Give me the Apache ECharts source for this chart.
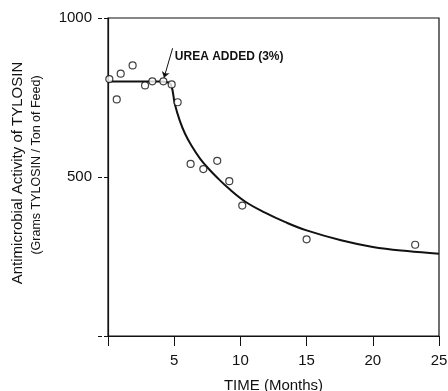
<!DOCTYPE html>
<html>
<head>
<meta charset="utf-8">
<script src="https://cdn.jsdelivr.net/npm/echarts@6/dist/echarts.min.js"></script>
<style>
  html, body { margin: 0; padding: 0; background: #fff; }
  #chart { width: 448px; height: 391px; }
</style>
</head>
<body>
<div id="chart"></div>
<script>
// measured points (months, grams tylosin / ton)
const months = [0.1, 0.66, 0.96, 1.86, 2.8, 3.35, 4.18, 4.81, 5.26, 6.24, 7.2, 8.25, 9.16, 10.14, 15.0, 23.2];
const activity = [808, 744, 825, 851, 788, 801, 801, 791, 735, 541, 525, 551, 487, 410, 304, 287];

// fitted curve
const curveMonths = [0, 2, 4, 4.4, 4.76, 5.06, 5.44, 5.82, 6.3, 6.95, 7.6, 8.2, 9.06, 10.35, 11.86, 13.4, 15.0, 17.6, 20.0, 22.6, 25.0];
const curveActivity = [800, 800, 800, 799, 790, 727, 675, 636, 599, 558, 526, 500, 466, 423, 388, 358, 332, 301, 280, 267, 259];

const xTicks = [5, 10, 15, 20, 25];
const yTicks = [500, 1000];

const font = "'Liberation Sans', Arial, sans-serif";
const chart = echarts.init(document.getElementById("chart"));

chart.setOption({
  animation: false,
  textStyle: { fontFamily: font, color: "#111" },
  grid: {
    left: 108, right: 9, top: 18, bottom: 55,
    outerBoundsMode: "none", containLabel: false,
    show: true, borderColor: "#111", borderWidth: 1.2,
  },
  xAxis: {
    type: "value", min: 0, max: 25, interval: 5,
    name: "TIME (Months)", nameLocation: "middle", nameGap: 42,
    nameTextStyle: { fontSize: 15, color: "#111", fontFamily: font },
    axisLine: { show: true, lineStyle: { color: "#111", width: 1.2 } },
    axisTick: { show: true, length: 10, lineStyle: { color: "#111" } },
    axisLabel: {
      fontSize: 15, color: "#111", margin: 17,
      formatter: (v) => (xTicks.includes(v) ? String(v) : ""),
    },
    splitLine: { show: false },
  },
  yAxis: {
    type: "value", min: 0, max: 1000, interval: 500,
    axisLine: { show: true, lineStyle: { color: "#111", width: 1.2 } },
    axisTick: { show: true, length: 12, lineStyle: { color: "#111", type: [4, 2] } },
    axisLabel: {
      fontSize: 15, color: "#111", margin: 16,
      formatter: (v) => (yTicks.includes(v) ? String(v) : ""),
    },
    splitLine: { show: false },
  },
  graphic: [
    {
      type: "text", x: 18, y: 173, rotation: Math.PI / 2,
      style: { text: "Antimicrobial Activity of TYLOSIN", font: "15px " + font, fill: "#111", align: "center", verticalAlign: "middle" },
    },
    {
      type: "text", x: 37, y: 165, rotation: Math.PI / 2,
      style: { text: "(Grams TYLOSIN / Ton of Feed)", font: "12.5px " + font, fill: "#111", align: "center", verticalAlign: "middle" },
    },
  ],
  series: [
    {
      type: "line",
      data: curveMonths.map((m, i) => [m, curveActivity[i]]),
      smooth: 0.4, showSymbol: false,
      lineStyle: { color: "#111", width: 2 },
      z: 2,
      markLine: {
        silent: true, symbol: ["none", "arrow"], symbolSize: 6,
        lineStyle: { color: "#111", width: 1, type: "solid" },
        label: { show: false },
        data: [[{ coord: [4.88, 905] }, { coord: [4.23, 812] }]],
      },
      markPoint: {
        silent: true, symbol: "circle", symbolSize: 0,
        label: {
          show: true, position: "right", distance: 0,
          formatter: "UREA ADDED (3%)",
          fontSize: 12, fontWeight: "bold", color: "#111", fontFamily: font,
        },
        data: [{ coord: [5.05, 877] }],
      },
    },
    {
      type: "scatter",
      data: months.map((m, i) => [m, activity[i]]),
      symbol: "circle", symbolSize: 7,
      itemStyle: { color: "#fff", borderColor: "#111", borderWidth: 1.2 },
      z: 3,
    },
  ],
});
</script>
</body>
</html>
